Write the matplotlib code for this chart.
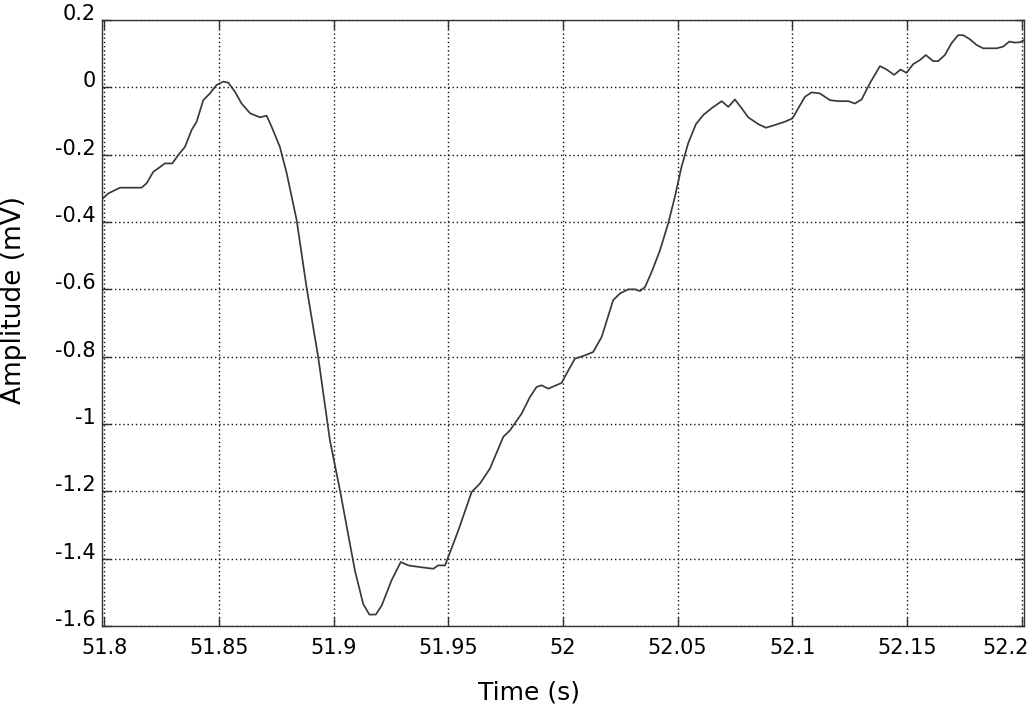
import matplotlib
matplotlib.use('Agg')
import matplotlib.pyplot as plt
from matplotlib.transforms import ScaledTranslation

# Trazado: tiempo (s) y amplitud (mV)
tiempo = [51.7989, 51.8018, 51.8069, 51.8163, 51.8185, 51.8214, 51.8265, 51.8297,
          51.8323, 51.8352, 51.8381, 51.8403, 51.8432, 51.8461, 51.8490, 51.8519,
          51.8541, 51.8570, 51.8599, 51.8636, 51.8679, 51.8708, 51.8730, 51.8766,
          51.8796, 51.8839, 51.8883, 51.8933, 51.8984, 51.9028, 51.9093, 51.9129,
          51.9156, 51.9184, 51.9210, 51.9253, 51.9293, 51.9326, 51.9377, 51.9435,
          51.9456, 51.9486, 51.9544, 51.9602, 51.9638, 51.9682, 51.9740, 51.9769,
          51.9820, 51.9856, 51.9885, 51.9907, 51.9936, 51.9994, 52.0016, 52.0052,
          52.0096, 52.0132, 52.0169, 52.0219, 52.0249, 52.0285, 52.0314, 52.0336,
          52.0358, 52.0387, 52.0423, 52.0459, 52.0488, 52.0517, 52.0546, 52.0580,
          52.0612, 52.0648, 52.0692, 52.0721, 52.0750, 52.0779, 52.0808, 52.0851,
          52.0885, 52.0932, 52.0968, 52.1001, 52.1026, 52.1055, 52.1084, 52.1120,
          52.1164, 52.1200, 52.1244, 52.1273, 52.1302, 52.1338, 52.1382, 52.1411,
          52.1444, 52.1472, 52.1498, 52.1527, 52.1556, 52.1582, 52.1614, 52.1636,
          52.1665, 52.1694, 52.1723, 52.1745, 52.1774, 52.1803, 52.1832, 52.1891,
          52.1919, 52.1946, 52.1970, 52.1992, 52.2018]
amplitude = [-0.333, -0.315, -0.298, -0.298, -0.285, -0.251, -0.226, -0.226,
             -0.201, -0.177, -0.127, -0.102, -0.038, -0.018, 0.007, 0.017,
             0.014, -0.013, -0.048, -0.077, -0.089, -0.084, -0.117, -0.177,
             -0.256, -0.394, -0.597, -0.801, -1.048, -1.197, -1.435, -1.534,
             -1.566, -1.566, -1.539, -1.464, -1.410, -1.420, -1.425, -1.430,
             -1.420, -1.420, -1.316, -1.202, -1.177, -1.132, -1.038, -1.019,
             -0.969, -0.920, -0.890, -0.885, -0.895, -0.878, -0.850, -0.806,
             -0.796, -0.786, -0.741, -0.632, -0.612, -0.600, -0.600, -0.605,
             -0.593, -0.548, -0.484, -0.404, -0.325, -0.236, -0.166, -0.109,
             -0.082, -0.062, -0.041, -0.058, -0.036, -0.062, -0.089, -0.109,
             -0.120, -0.110, -0.102, -0.092, -0.062, -0.028, -0.015, -0.018,
             -0.038, -0.041, -0.041, -0.048, -0.036, 0.012, 0.063, 0.053,
             0.037, 0.053, 0.043, 0.069, 0.081, 0.096, 0.078, 0.078,
             0.096, 0.131, 0.155, 0.155, 0.143, 0.126, 0.116, 0.116,
             0.121, 0.136, 0.133, 0.134, 0.143]

xticks = [51.8, 51.85, 51.9, 51.95, 52.0, 52.05, 52.1, 52.15, 52.2]
xtick_labels = ['51.8', '51.85', '51.9', '51.95', '52', '52.05', '52.1', '52.15', '52.2']
yticks = [0.2, 0.0, -0.2, -0.4, -0.6, -0.8, -1.0, -1.2, -1.4, -1.6]
ytick_labels = ['0.2', '0', '-0.2', '-0.4', '-0.6', '-0.8', '-1', '-1.2', '-1.4', '-1.6']

plt.rcParams['axes.unicode_minus'] = False
plt.rcParams['font.family'] = 'DejaVu Sans'

fig = plt.figure(figsize=(10.31, 7.10), dpi=100)
ax = fig.add_axes([0.0986, 0.1183, 0.8946, 0.8535])

ax.plot(tiempo, amplitude, color='#3a3a3a', linewidth=1.25)

ax.set_xlim(51.7989, 52.2010)
ax.set_ylim(-1.6, 0.2)
ax.set_xticks(xticks)
ax.set_xticklabels(xtick_labels)
ax.set_yticks(yticks)
ax.set_yticklabels(ytick_labels)

ax.grid(True, color='#111111', linestyle=(0, (1, 2)), linewidth=1.0)
ax.tick_params(direction='in', length=6.5, width=1.0, color='#333333',
               top=True, right=True, labelsize=15)
ax.tick_params(axis='x', pad=8.5)
ax.tick_params(axis='y', pad=4.5)
for lab in ax.get_yticklabels():
    lab.set_va('baseline')

# la ultima etiqueta queda pegada al borde derecho
ultima = ax.get_xticklabels()[-1]
ultima.set_transform(ultima.get_transform() + ScaledTranslation(-0.16, 0, fig.dpi_scale_trans))

for sp in ax.spines.values():
    sp.set_color('#333333')
    sp.set_linewidth(1.0)

ax.set_xlabel('Time (s)', fontsize=18, va='center')
ax.xaxis.set_label_coords(0.4638, -0.109)
ax.set_ylabel('Amplitude (mV)', fontsize=19, va='center')
ax.yaxis.set_label_coords(-0.095, 0.538)

fig.savefig('out.png', dpi=100)
